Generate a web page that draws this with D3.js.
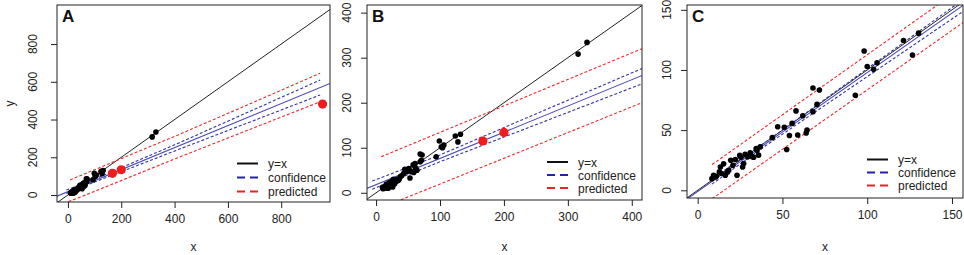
<!DOCTYPE html>
<html><head><meta charset="utf-8">
<script src="https://cdn.jsdelivr.net/npm/d3@7"></script>
<style>
html,body{margin:0;padding:0;background:#fff;}
svg{display:block;font-family:"Liberation Sans",Arial,sans-serif;}
</style></head>
<body>
<svg id="chart" width="964" height="255"></svg>
<script>
// ---- data: panels A and B (same observations) ----
const abBlackX = [330,316,99,102,106,104,94,124,128,132,69,72,69,71,61,58,53,51,48,56,64,62,43,45,38,35,33,30,28,27,25,24,22,21,20,18,17,15,14,13,12,11,10,16,19,23,26,29,32,36,40,55,59];
const abBlackY = [334,308,115,102,106,100,80,126,113,130,86,84,69,72,65,62,33,54,47,47,50,55,43,52,36,28,30,26,22,30,18,25,20,14,22,17,12,15,10,13,11,9,12,19,10,16,13,20,25,30,38,48,45];
const abRedX = [167,200,955];
const abRedY = [115,134,482];
// fitted line and bands (read as line vertices)
const abFit = [[-41,-6],[983,591]];
const abConfUp = [[-6,26],[100,84],[416,276],[946,609]];
const abConfLo = [[-6,8],[100,69],[416,242],[946,530]];
const abPredUp = [[8,80],[416,320],[946,645]];
const abPredLo = [[2,-35],[38,-16],[416,200],[946,494]];

// ---- data: panel C ----
const cX = [130.3,121.4,126.7,98.2,100,103.8,105.8,93,68,71.8,70.4,68,58,62,55.7,47.2,51.1,54.1,59,64.5,64,52.5,44,36.9,34.5,35.9,33,31,29.5,24.8,25.5,22.2,19.5,27.1,26.5,23.2,15.3,13.4,12.8,11,9.4,8.4,16.3,18.3,20.8,17.5,14,10.5,32,35,28];
const cY = [130.6,124.5,112.5,115.8,102.8,100.5,106,79,85,83.3,71.4,65.3,66,62,55.6,52.8,52.4,45.5,46,50,47.6,33.9,43.8,36.1,34.7,29.2,27.5,31.1,27.8,29,27.5,25.6,25,22.2,19.4,12.5,22,19.4,15.3,11.7,12.5,9.7,12.5,16.7,20.8,15,14,11,28,33,30];
const cFit = [[-6.3,-7.2],[160,157.1]];
const cConfUp = [[8.4,9.5],[40,40],[160,162]];
const cConfLo = [[8.4,5.1],[40,37],[160,152]];
const cPredUp = [[8.5,21.4],[160,172.5]];
const cPredLo = [[8.5,-7],[160,142.8]];

// ---- tick labels ----
const aTicksX = [0,200,400,600,800], aTicksY = [0,200,400,600,800];
const bTicksX = [0,100,200,300,400], bTicksY = [0,100,200,300,400];
const cTicksX = [0,50,100,150], cTicksY = [0,50,100,150];
const legendLabels = ["y=x","confidence","predicted"];
const panelLetters = ["A","B","C"];

const BLUE = "#3333aa", RED = "#ee2b2b";
const svg = d3.select("#chart");

function panel(cfg, idx){
  const {box, xDom, yDom, xT, yT, blackX, blackY, redX, redY, fit, confUp, confLo, predUp, predLo, yLabBase, leg, ylab} = cfg;
  const x = d3.scaleLinear().domain(xDom).range([box.l, box.r]);
  const y = d3.scaleLinear().domain(yDom).range([box.b, box.t]);
  const g = svg.append("g");
  const cid = "clip" + idx;
  g.append("clipPath").attr("id", cid).append("rect")
    .attr("x", box.l).attr("y", box.t).attr("width", box.r-box.l).attr("height", box.b-box.t);
  const pg = g.append("g").attr("clip-path", `url(#${cid})`);
  const line = d3.line().x(d=>x(d[0])).y(d=>y(d[1]));
  // y = x
  pg.append("path").attr("d", line([[xDom[0]-50, xDom[0]-50],[xDom[1]+50, xDom[1]+50]]))
    .attr("fill","none").attr("stroke","#222").attr("stroke-width",1);
  pg.append("path").attr("d", line(predUp)).attr("fill","none").attr("stroke",RED).attr("stroke-width",1.1).attr("stroke-dasharray","3,2");
  pg.append("path").attr("d", line(predLo)).attr("fill","none").attr("stroke",RED).attr("stroke-width",1.1).attr("stroke-dasharray","3,2");
  pg.append("path").attr("d", line(confUp)).attr("fill","none").attr("stroke",BLUE).attr("stroke-width",1.1).attr("stroke-dasharray","3,2");
  pg.append("path").attr("d", line(confLo)).attr("fill","none").attr("stroke",BLUE).attr("stroke-width",1.1).attr("stroke-dasharray","3,2");
  pg.append("path").attr("d", line(fit)).attr("fill","none").attr("stroke","#4a4ab8").attr("stroke-width",1.1);
  pg.selectAll("circle.b").data(blackX.map((v,i)=>[v,blackY[i]])).enter().append("circle")
    .attr("cx",d=>x(d[0])).attr("cy",d=>y(d[1])).attr("r",2.8).attr("fill","#000");
  pg.selectAll("circle.r").data(redX.map((v,i)=>[v,redY[i]])).enter().append("circle")
    .attr("cx",d=>x(d[0])).attr("cy",d=>y(d[1])).attr("r",4.6).attr("fill","#ee1c1c");
  // box
  g.append("rect").attr("x",box.l).attr("y",box.t).attr("width",box.r-box.l).attr("height",box.b-box.t)
    .attr("fill","none").attr("stroke","#222").attr("stroke-width",1);
  // x axis
  const xa = g.append("g").attr("transform",`translate(0,${box.b})`)
    .call(d3.axisBottom(x).tickValues(xT).tickFormat(d3.format("d")).tickSize(6).tickPadding(6));
  xa.select(".domain").remove();
  xa.selectAll("line").attr("stroke","#222");
  xa.selectAll("text").attr("font-size","12px").attr("fill","#222");
  // y axis
  const ya = g.append("g").attr("transform",`translate(${box.l},0)`)
    .call(d3.axisLeft(y).tickValues(yT).tickFormat(d3.format("d")).tickSize(6));
  ya.select(".domain").remove();
  ya.selectAll("line").attr("stroke","#222");
  ya.selectAll("text").remove();
  g.selectAll("text.yt").data(yT).enter().append("text")
    .attr("transform", d=>`translate(${box.l - yLabBase},${y(d)}) rotate(-90)`)
    .attr("text-anchor","middle").attr("font-size","12px").attr("fill","#222").text(d=>d);
  // titles
  g.append("text").attr("x",(box.l+box.r)/2).attr("y",251).attr("text-anchor","middle")
    .attr("font-size","12px").attr("fill","#222").text("x");
  if (ylab) {
    g.append("text").attr("transform",`translate(14,${(box.t+box.b)/2}) rotate(-90)`)
      .attr("text-anchor","middle").attr("font-size","12px").attr("fill","#222").text("y");
  }
  g.append("text").attr("x",box.l+5).attr("y",box.t+17).attr("font-size","17px").attr("font-weight","bold")
    .attr("fill","#111").text(panelLetters[idx]);
  // legend
  const cols = ["#111", "#2222aa", "#ee2222"], dash = [null, "8,5", "8,5"];
  legendLabels.forEach((t,i)=>{
    const yy = leg.y + i*leg.dy;
    const l = g.append("line").attr("x1",leg.x).attr("x2",leg.x+21).attr("y1",yy).attr("y2",yy)
      .attr("stroke",cols[i]).attr("stroke-width",2);
    if (dash[i]) l.attr("stroke-dasharray",dash[i]);
    g.append("text").attr("x",leg.x+31).attr("y",yy+4.5).attr("font-size","12px").attr("fill","#222").text(t);
  });
}

panel({box:{l:57,r:330,t:5,b:202}, xDom:[-41,983], yDom:[-37,1007], xT:aTicksX, yT:aTicksY,
  blackX:abBlackX, blackY:abBlackY, redX:abRedX, redY:abRedY,
  fit:abFit, confUp:abConfUp, confLo:abConfLo, predUp:abPredUp, predLo:abPredLo,
  yLabBase:20, leg:{x:237,y:163.5,dy:14}, ylab:true}, 0);
panel({box:{l:367,r:642,t:5,b:200}, xDom:[-14.2,416], yDom:[-16,417], xT:bTicksX, yT:bTicksY,
  blackX:abBlackX, blackY:abBlackY, redX:abRedX, redY:abRedY,
  fit:abFit, confUp:abConfUp, confLo:abConfLo, predUp:abPredUp, predLo:abPredLo,
  yLabBase:16.5, leg:{x:547,y:162,dy:13}, ylab:false}, 1);
panel({box:{l:687,r:963,t:5,b:198}, xDom:[-6.3,156.5], yDom:[-6.4,154], xT:cTicksX, yT:cTicksY,
  blackX:cX, blackY:cY, redX:[], redY:[],
  fit:cFit, confUp:cConfUp, confLo:cConfLo, predUp:cPredUp, predLo:cPredLo,
  yLabBase:16.5, leg:{x:867,y:159.5,dy:13}, ylab:false}, 2);
</script>
</body></html>
